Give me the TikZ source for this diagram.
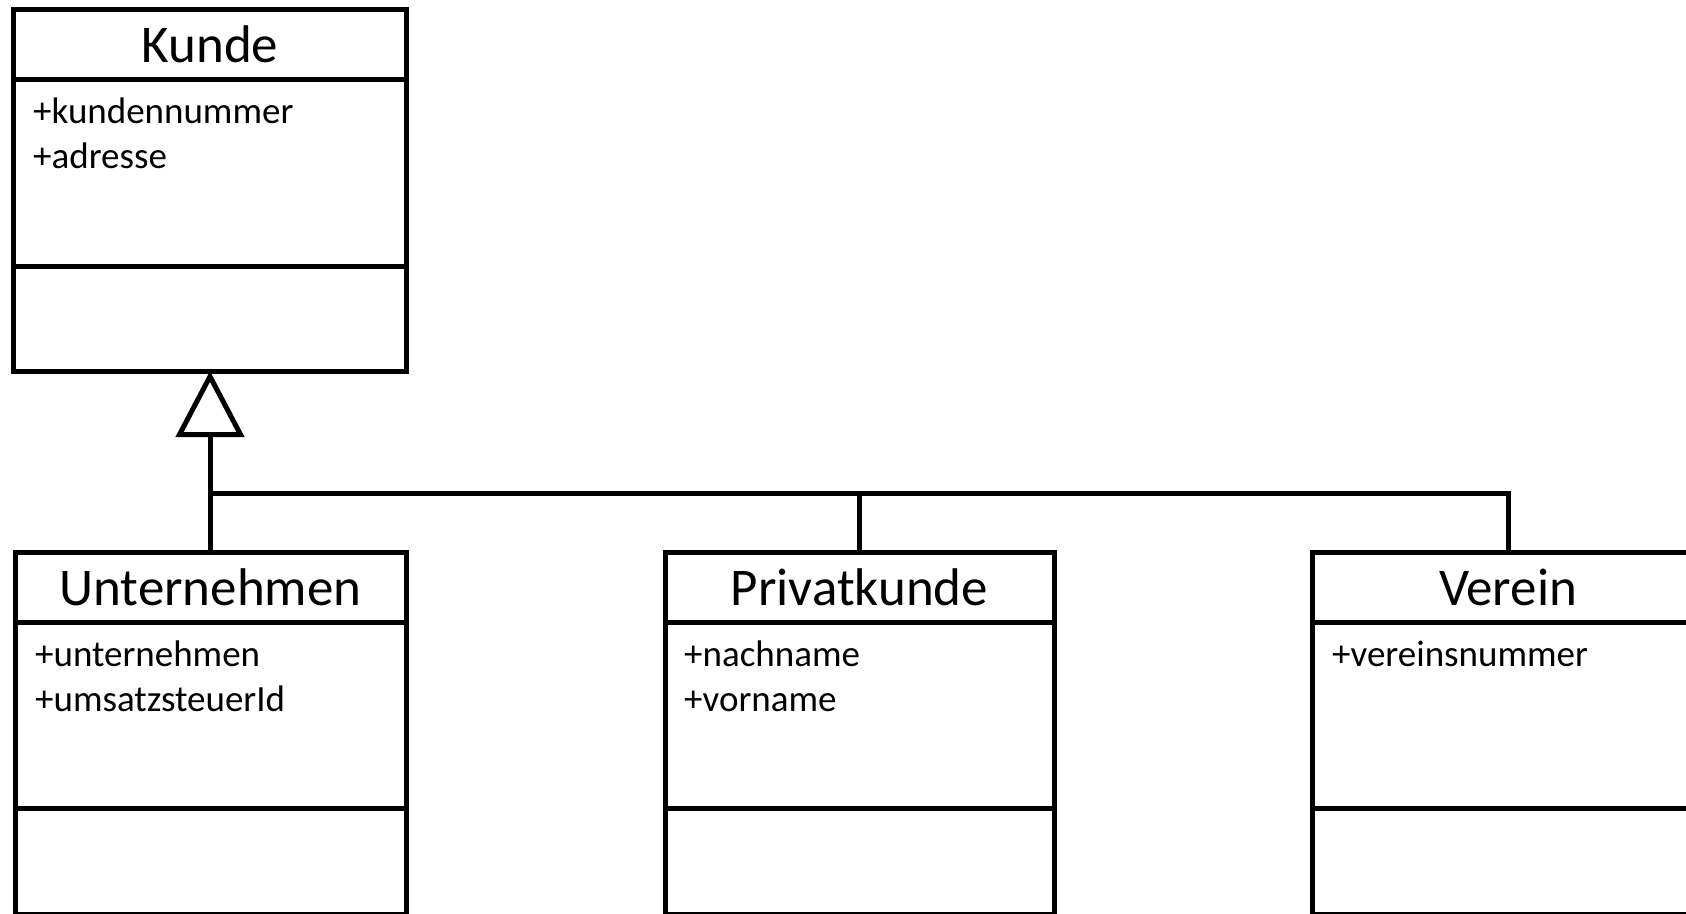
\documentclass[tikz,border=0pt]{standalone}
\usepackage{fontspec}
\setmainfont{Carlito}
\usetikzlibrary{arrows.meta}
\begin{document}
\begin{tikzpicture}[x=1pt,y=-1pt,
  classbox/.style={draw,line width=5pt,anchor=north west,inner sep=0pt,outer sep=0pt},
  divider/.style={line width=5pt},
  link/.style={line width=5pt,line join=miter},
  title/.style={anchor=base,inner sep=0pt,font=\fontsize{53}{60}\selectfont},
  attr/.style={anchor=base west,inner sep=0pt,font=\fontsize{37}{45}\selectfont}]
\useasboundingbox (0,0) rectangle (1686,913);

% Superclass
\node[classbox,minimum width=393pt,minimum height=362pt] (kunde) at (13,9) {};
\draw[divider] (kunde.west |- 0,79) -- (kunde.east |- 0,79);
\draw[divider] (kunde.west |- 0,266) -- (kunde.east |- 0,266);
\node[title] (kundeT) at (210,62) {Kunde};
\node[attr] (kundeA1) at (33,123) {+kundennummer};
\node[attr] (kundeA2) at (33,168) {+adresse};

% Subclasses
\node[classbox,minimum width=391pt,minimum height=362pt] (unt) at (15,552) {};
\draw[divider] (unt.west |- 0,622) -- (unt.east |- 0,622);
\draw[divider] (unt.west |- 0,808) -- (unt.east |- 0,808);
\node[title] (untT) at (210.5,605) {Unternehmen};
\node[attr] (untA1) at (35,666) {+unternehmen};
\node[attr] (untA2) at (35,711) {+umsatzsteuerId};

\node[classbox,minimum width=389pt,minimum height=362pt] (priv) at (665,552) {};
\draw[divider] (priv.west |- 0,622) -- (priv.east |- 0,622);
\draw[divider] (priv.west |- 0,808) -- (priv.east |- 0,808);
\node[title] (privT) at (859.5,605) {Privatkunde};
\node[attr] (privA1) at (684,666) {+nachname};
\node[attr] (privA2) at (684,711) {+vorname};

\node[classbox,minimum width=392pt,minimum height=362pt] (ver) at (1312,552) {};
\draw[divider] (ver.west |- 0,622) -- (ver.east |- 0,622);
\draw[divider] (ver.west |- 0,808) -- (ver.east |- 0,808);
\node[title] (verT) at (1508,605) {Verein};
\node[attr] (verA1) at (1332,666) {+vereinsnummer};

% Generalization
\coordinate (bus) at (210,493);
\draw[link,-{Triangle[open,length=66pt,width=68pt,line width=5pt]}] (unt.north -| bus) -- (kunde.south -| bus);
\draw[link] (priv.north) -- (priv.north |- bus);
\draw[link] (ver.north) -- (ver.north |- bus) -- (bus);
\end{tikzpicture}
\end{document}
